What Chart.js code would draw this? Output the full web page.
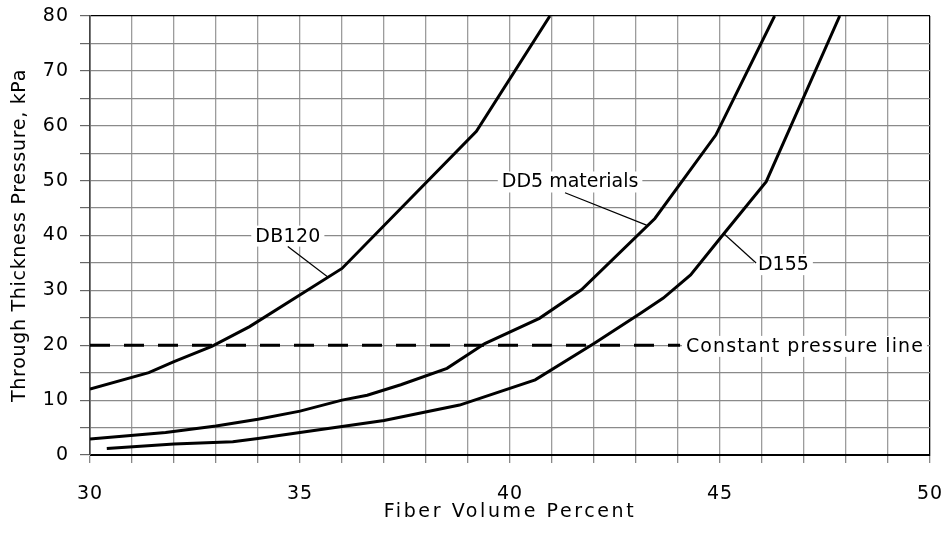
<!DOCTYPE html>
<html>
<head>
<meta charset="utf-8">
<script src="https://cdn.jsdelivr.net/npm/chart.js@4.4.0/dist/chart.umd.min.js"></script>
<style>
  html, body { margin: 0; padding: 0; background: #fff; }
  #wrap { width: 948px; height: 536px; position: relative; }
</style>
</head>
<body>
<div id="wrap"><canvas id="pressureChart"></canvas></div>
<script>
// points (x = fiber volume %, y = pressure kPa)
var db120X = [30, 31.4, 32, 32.9, 33.8, 36, 39.2, 40.95];
var db120Y = [12, 15, 17, 19.8, 23.4, 34, 59, 80];

var dd5X = [30, 31.8, 33, 34, 35, 36, 36.6, 37.4, 38.5, 39.4, 40.7, 41.7, 43.45, 44.9, 46.3];
var dd5Y = [2.9, 4.1, 5.3, 6.5, 8, 10, 10.9, 12.8, 15.8, 20.3, 24.9, 30.1, 43.1, 58.3, 80];

var d155X = [30.4, 32, 33.4, 34, 35, 37, 38.8, 40.6, 42, 43.1, 43.65, 44.3, 45.1, 46.1, 47.85];
var d155Y = [1.2, 2.0, 2.4, 3.0, 4.1, 6.3, 9.1, 13.7, 20.3, 25.8, 28.6, 32.8, 40.4, 49.8, 80];

var constX = [30, 44.05];
var constY = [20, 20];

var xMin = 30, xMax = 50, xStep = 1, xLabelEvery = 5;
var yMin = 0, yMax = 80, yStep = 5, yLabelEvery = 10;

var FONT = 'DejaVu Sans';

function toPoints(xs, ys) {
    return xs.map(function(x, i) { return {x: x, y: ys[i]}; });
}

// text callouts, positioned in data units
var callouts = [
    {text: 'DB120', x: 34.71, y: 39.8, from: [34.71, 38.0], to: [35.67, 32.4], spacing: 0.3},
    {text: 'DD5 materials', x: 41.43, y: 49.66, from: [41.31, 47.8], to: [43.25, 41.9], spacing: 0},
    {text: 'D155', x: 46.51, y: 34.6, from: [45.86, 35.0], to: [45.08, 40.4], spacing: 0},
    {text: 'Constant pressure line', x: 44.19, y: 19.7, align: 'left', spacing: 1.1}
];

// the original text is set a bit wider than DejaVu, so space the letters out
var titleSpacing = { x: 2.6, y: 0.7 };

var calloutPlugin = {
    id: 'callouts',
    beforeDraw: function(chart) {
        chart.ctx.letterSpacing = '1px';
        ['x', 'y'].forEach(function(id) {
            var s = chart.scales[id];
            if (s._spaced) return;
            var orig = s.drawTitle;
            s.drawTitle = function() {
                var prev = this.ctx.letterSpacing;
                this.ctx.letterSpacing = titleSpacing[id] + 'px';
                orig.apply(this, arguments);
                this.ctx.letterSpacing = prev;
            };
            s._spaced = true;
        });
    },
    afterDatasetsDraw: function(chart) {
        var ctx = chart.ctx, xs = chart.scales.x, ys = chart.scales.y;
        ctx.save();
        ctx.font = '19px "' + FONT + '"';
        ctx.textBaseline = 'middle';
        ctx.textAlign = 'left';
        callouts.forEach(function(c) {
            ctx.letterSpacing = c.spacing + 'px';
            var w = ctx.measureText(c.text).width - c.spacing;
            var px = xs.getPixelForValue(c.x), py = ys.getPixelForValue(c.y);
            var left = c.align === 'left' ? px : px - w / 2;
            ctx.fillStyle = '#fff';
            ctx.fillRect(left - 4, py - 11, w + 8, 21);
            ctx.fillStyle = '#000';
            ctx.fillText(c.text, left, py);
            if (c.from) {
                ctx.beginPath();
                ctx.lineWidth = 1.2;
                ctx.strokeStyle = '#000';
                ctx.moveTo(xs.getPixelForValue(c.from[0]), ys.getPixelForValue(c.from[1]));
                ctx.lineTo(xs.getPixelForValue(c.to[0]), ys.getPixelForValue(c.to[1]));
                ctx.stroke();
            }
        });
        ctx.restore();
    },
    afterDraw: function(chart) { chart.ctx.letterSpacing = '0px'; }
};

function curve(label, xs, ys, dash) {
    return {
        label: label,
        data: toPoints(xs, ys),
        borderColor: '#000',
        borderWidth: 3,
        borderDash: dash || [],
        pointRadius: 0,
        tension: 0,
        fill: false
    };
}

var ctx = document.getElementById('pressureChart').getContext('2d');
var chart = new Chart(ctx, {
    type: 'line',
    data: {
        datasets: [
            curve('DB120', db120X, db120Y),
            curve('DD5 materials', dd5X, dd5Y),
            curve('D155', d155X, d155Y),
            curve('Constant pressure line', constX, constY, [20, 14])
        ]
    },
    options: {
        responsive: true,
        maintainAspectRatio: false,
        animation: false,
        layout: { padding: { top: 16, right: 18, left: 0, bottom: 0 } },
        plugins: { legend: { display: false }, tooltip: { enabled: false } },
        scales: {
            x: {
                type: 'linear',
                min: xMin, max: xMax,
                afterFit: function(s) {
                    s.height = 81;
                    s.paddingLeft = 12;
                    s.paddingRight = 12;
                },
                ticks: {
                    stepSize: xStep, autoSkip: false, maxRotation: 0, padding: 20,
                    color: '#000', font: { family: FONT, size: 19 },
                    callback: function(v) { return v % xLabelEvery === 0 ? v : ''; }
                },
                grid: {
                    color: function(c) { return c.tick && (c.tick.value === xMin || c.tick.value === xMax) ? '#000' : '#9c9c9c'; },
                    lineWidth: 1.3,
                    tickLength: 8,
                    tickColor: '#888'
                },
                border: { display: true, color: '#000', width: 1 },
                title: {
                    display: true, text: 'Fiber Volume Percent', color: '#000',
                    font: { family: FONT, size: 19 }, padding: { top: 0, bottom: 13 }
                }
            },
            y: {
                min: yMin, max: yMax,
                afterFit: function(s) {
                    s.width = 90;
                    s.paddingTop = 10;
                    s.paddingBottom = 0;
                },
                ticks: {
                    stepSize: yStep, padding: 11,
                    color: '#000', font: { family: FONT, size: 19 },
                    callback: function(v) { return v % yLabelEvery === 0 ? v : ''; }
                },
                grid: {
                    color: function(c) { return c.tick && (c.tick.value === yMin || c.tick.value === yMax) ? '#000' : '#8a8a8a'; },
                    lineWidth: 1.2,
                    tickLength: 10,
                    tickColor: '#666'
                },
                border: { display: true, color: '#444', width: 1.5 },
                title: {
                    display: true, text: 'Through Thickness Pressure, kPa', color: '#000',
                    font: { family: FONT, size: 19 }, padding: { top: 9, bottom: 0 }
                }
            }
        }
    },
    plugins: [calloutPlugin]
});
</script>
</body>
</html>
